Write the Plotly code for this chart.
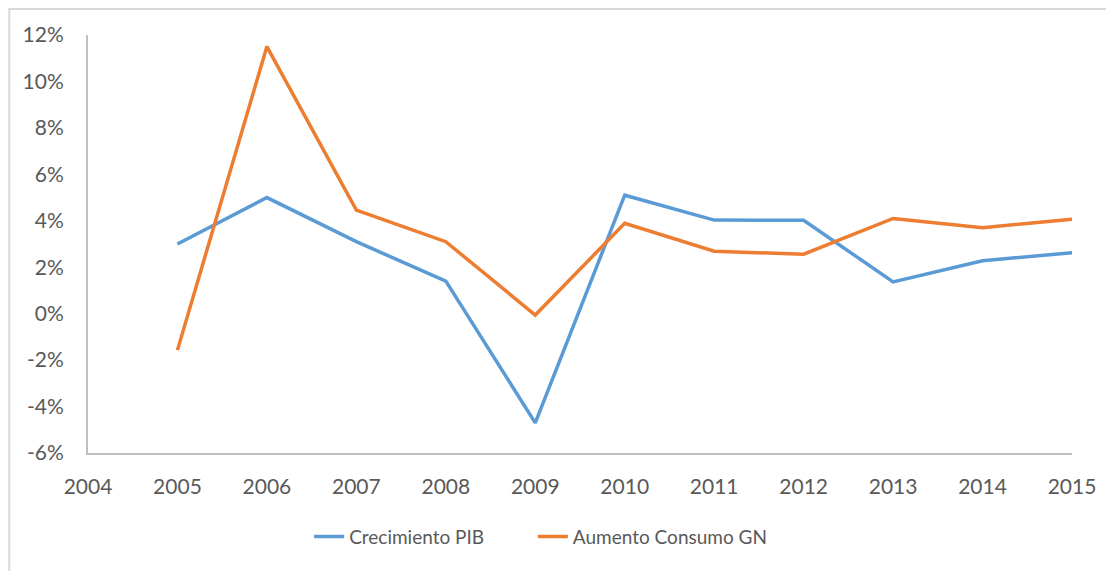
import plotly.graph_objects as go

years = [2005, 2006, 2007, 2008, 2009, 2010, 2011, 2012, 2013, 2014, 2015]
crecimiento_pib = [3.0, 5.0, 3.1, 1.4, -4.7, 5.1, 4.03, 4.02, 1.37, 2.28, 2.62]
aumento_consumo_gn = [-1.57, 11.5, 4.46, 3.1, -0.06, 3.89, 2.69, 2.56, 4.1, 3.7, 4.07]

y_ticks = [-6, -4, -2, 0, 2, 4, 6, 8, 10, 12]
y_labels = [f"{v}%" for v in y_ticks]

font_family = "Lato, Liberation Sans, sans-serif"
text_color = "#595959"

fig = go.Figure()
fig.add_trace(go.Scatter(x=years, y=crecimiento_pib, mode="lines",
                         name="Crecimiento PIB" + "\u00a0" * 9,
                         line=dict(color="#5B9BD5", width=3.5)))
fig.add_trace(go.Scatter(x=years, y=aumento_consumo_gn, mode="lines",
                         name="Aumento Consumo GN",
                         line=dict(color="#ED7D31", width=3.5)))

# the page body adds 8px, so the figure is a bit smaller than the window
fig.update_layout(
    width=1106, height=563,
    margin=dict(l=80, r=42, t=27, b=118),
    plot_bgcolor="white", paper_bgcolor="white",
    font=dict(family=font_family, size=21, color=text_color),
    showlegend=True,
    legend=dict(orientation="h", x=0.46, xanchor="center", y=-0.2,
                yanchor="middle", font=dict(size=19, color=text_color)),
    # thin chart border like the Excel chart area
    shapes=[dict(type="rect", xref="paper", yref="paper",
                 x0=-0.08, x1=1.2, y0=-0.5, y1=1.062,
                 line=dict(color="#D9D9D9", width=2), layer="below")],
)

fig.update_xaxes(range=[2004, 2015], dtick=1, tick0=2004,
                 showgrid=False, zeroline=False,
                 showline=True, linecolor="#BFBFBF", linewidth=2,
                 ticks="", ticklabelstandoff=14)
fig.update_yaxes(range=[-6, 12], tickvals=y_ticks, ticktext=y_labels,
                 showgrid=False, zeroline=False,
                 showline=True, linecolor="#BFBFBF", linewidth=2,
                 ticks="", ticklabelstandoff=18)

fig.write_html("out.html")
